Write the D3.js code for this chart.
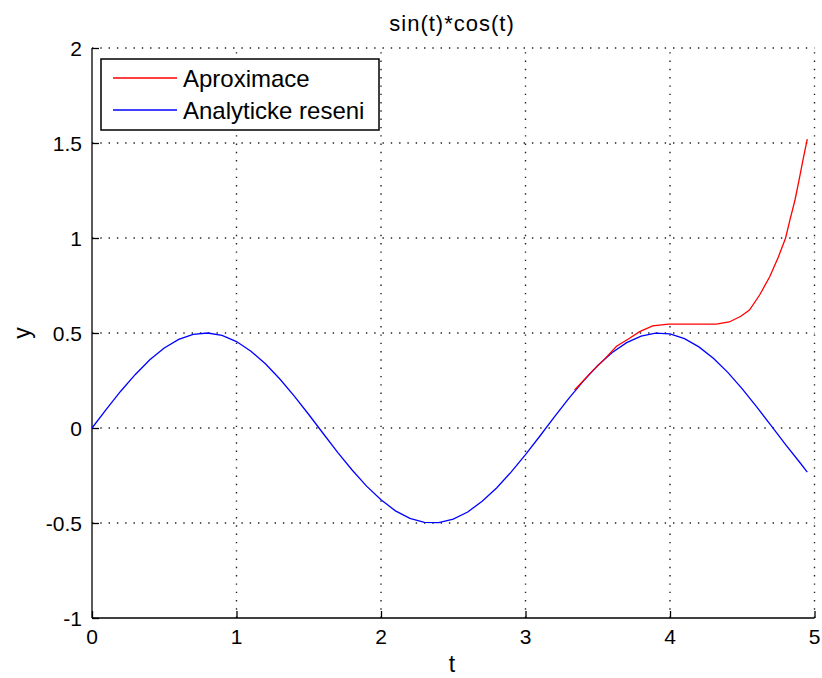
<!DOCTYPE html>
<html>
<head>
   <meta charset="UTF-8">
   <title>sin(t)*cos(t)</title>
   <style>
       body { margin: 0; overflow: hidden; background: white; }
       svg { background: white; font-family: "Liberation Sans", Arial, sans-serif; }
       .grid line { stroke: #222; stroke-width: 1.4; stroke-dasharray: 1.4,6.9; }
       .tick-label { fill: #000; font-size: 21px; }
   </style>
   <script src="https://cdnjs.cloudflare.com/ajax/libs/d3/7.8.5/d3.min.js"></script>
</head>
<body>
   <div id="chart"></div>
   <script>
       // ticks
       const xTicks = [0, 1, 2, 3, 4, 5];
       const yTicks = [-1, -0.5, 0, 0.5, 1, 1.5, 2];

       // analytic solution
       const tAnal = [0, 0.1, 0.2, 0.3, 0.4, 0.5, 0.6, 0.7, 0.8, 0.9,
                      1.0, 1.1, 1.2, 1.3, 1.4, 1.5, 1.6, 1.7, 1.8, 1.9,
                      2.0, 2.1, 2.2, 2.3, 2.4, 2.5, 2.6, 2.7, 2.8, 2.9,
                      3.0, 3.1, 3.2, 3.3, 3.4, 3.5, 3.6, 3.7, 3.8, 3.9,
                      4.0, 4.1, 4.2, 4.3, 4.4, 4.5, 4.6, 4.7, 4.8, 4.9, 4.95];
       const yAnal = [0, 0.099, 0.195, 0.282, 0.359, 0.421, 0.466, 0.493, 0.5, 0.487,
                      0.455, 0.404, 0.338, 0.258, 0.168, 0.071, -0.029, -0.128, -0.221, -0.306,
                      -0.378, -0.436, -0.476, -0.497, -0.498, -0.48, -0.442, -0.386, -0.316, -0.232,
                      -0.14, -0.042, 0.058, 0.156, 0.247, 0.329, 0.397, 0.449, 0.484, 0.499,
                      0.495, 0.47, 0.427, 0.367, 0.293, 0.206, 0.111, 0.012, -0.087, -0.183, -0.232];

       // approximation
       const tApprox = [3.34, 3.45, 3.55, 3.63, 3.72, 3.79, 3.88, 3.99, 4.14, 4.32,
                        4.41, 4.49, 4.55, 4.62, 4.69, 4.75, 4.8, 4.83, 4.865, 4.893, 4.92, 4.95];
       const yApprox = [0.2, 0.29, 0.365, 0.43, 0.472, 0.507, 0.537, 0.547, 0.547, 0.547,
                        0.558, 0.588, 0.621, 0.7, 0.796, 0.9, 1.0, 1.095, 1.2, 1.305, 1.41, 1.52];

       const series = [
           {name: "Aproximace", color: "#ff0000", t: tApprox, y: yApprox},
           {name: "Analyticke reseni", color: "#0000ff", t: tAnal, y: yAnal}
       ];

       const width = 822;
       const height = 678;
       const margin = {top: 48, right: 7.5, bottom: 60, left: 92};

       const svg = d3.select("#chart")
           .append("svg")
           .attr("width", width)
           .attr("height", height);

       const x = d3.scaleLinear().domain([0, 5]).range([margin.left, width - margin.right]);
       const y = d3.scaleLinear().domain([-1, 2]).range([height - margin.bottom, margin.top]);

       // dotted grid
       const grid = svg.append("g").attr("class", "grid");
       grid.selectAll(".gx")
           .data(xTicks.slice(1))
           .enter().append("line")
           .attr("x1", d => x(d)).attr("x2", d => x(d))
           .attr("y1", y(-1)).attr("y2", y(2));
       grid.selectAll(".gy")
           .data(yTicks.slice(1))
           .enter().append("line")
           .attr("x1", x(0)).attr("x2", x(5))
           .attr("y1", d => y(d)).attr("y2", d => y(d));

       // axes, ticks pointing inward
       const xAxis = d3.axisTop(x).tickValues(xTicks).tickSize(7).tickFormat("");
       const yAxis = d3.axisRight(y).tickValues(yTicks).tickSize(7).tickFormat("");

       svg.append("g")
           .attr("transform", `translate(0,${y(-1)})`)
           .call(xAxis)
           .call(g => g.select(".domain").attr("d", `M${x(0)},0H${x(5)}`))
           .selectAll("path, line").attr("stroke", "#000").attr("stroke-width", 1.3);

       svg.append("g")
           .attr("transform", `translate(${x(0)},0)`)
           .call(yAxis)
           .call(g => g.select(".domain").attr("d", `M0,${y(-1)}V${y(2)}`))
           .selectAll("path, line").attr("stroke", "#000").attr("stroke-width", 1.3);

       svg.selectAll(".xl")
           .data(xTicks)
           .enter().append("text")
           .attr("class", "tick-label")
           .attr("x", d => x(d))
           .attr("y", y(-1) + 26)
           .attr("text-anchor", "middle")
           .text(d => d);

       svg.selectAll(".yl")
           .data(yTicks)
           .enter().append("text")
           .attr("class", "tick-label")
           .attr("x", x(0) - 10)
           .attr("y", d => y(d) + 7.5)
           .attr("text-anchor", "end")
           .text(d => d);

       // curves
       const line = d3.line()
           .x(d => x(d[0]))
           .y(d => y(d[1]));

       series.slice().reverse().forEach(s => {
           svg.append("path")
               .datum(s.t.map((t, i) => [t, s.y[i]]))
               .attr("d", line)
               .attr("fill", "none")
               .attr("stroke", s.color)
               .attr("stroke-width", 1.3);
       });

       // labels
       svg.append("text")
           .attr("x", 452).attr("y", 31)
           .attr("text-anchor", "middle")
           .style("font-size", "22px")
           .style("letter-spacing", "1px")
           .text("sin(t)*cos(t)");

       svg.append("text")
           .attr("x", 452).attr("y", 672)
           .attr("text-anchor", "middle")
           .style("font-size", "23px")
           .text("t");

       svg.append("text")
           .attr("transform", "translate(30,333) rotate(-90)")
           .attr("text-anchor", "middle")
           .style("font-size", "23px")
           .text("y");

       // legend
       const legend = svg.append("g");
       legend.append("rect")
           .attr("x", 101).attr("y", 59)
           .attr("width", 278).attr("height", 71)
           .attr("fill", "white")
           .attr("stroke", "#000")
           .attr("stroke-width", 1.5);

       const items = legend.selectAll(".item")
           .data(series)
           .enter().append("g")
           .attr("transform", (d, i) => `translate(0,${78 + i * 32})`);
       items.append("line")
           .attr("x1", 113).attr("x2", 177)
           .attr("stroke", d => d.color)
           .attr("stroke-width", 1.3);
       items.append("text")
           .attr("x", 183).attr("y", 9)
           .style("font-size", "24px")
           .text(d => d.name);
   </script>
</body>
</html>
